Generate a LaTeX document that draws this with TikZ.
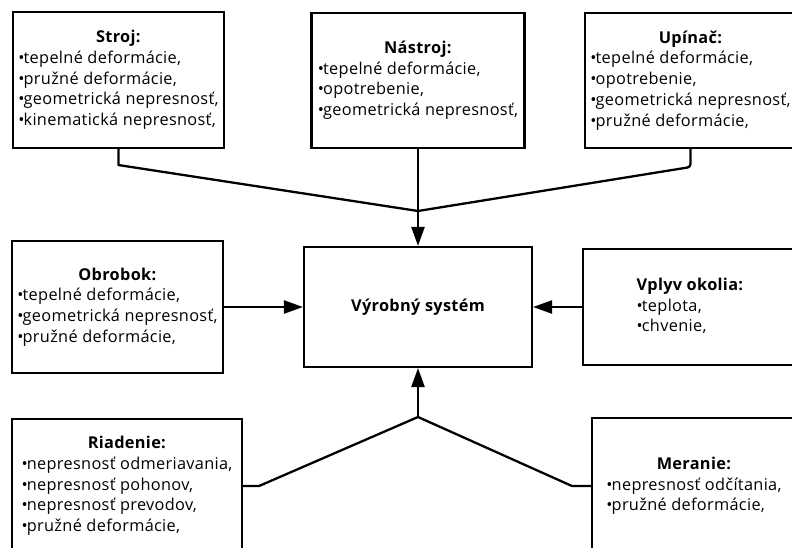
\documentclass[tikz,border=0pt]{standalone}
\usepackage{fontspec}
\setmainfont{Open Sans}[LetterSpace=2]
\usetikzlibrary{arrows.meta}
% title centred over a left-aligned list
\newcommand\listbox[2]{\begin{tabular}{@{}l@{}}\multicolumn{1}{@{}c@{}}{\textbf{#1}}\\#2\end{tabular}}
% bullet set close to its word
\newcommand\bul{•\kern-0.8pt}
\begin{document}
\begin{tikzpicture}[x=1pt,y=-1pt,
  box/.style={draw, line width=2.1pt, inner sep=0pt, font=\fontsize{16.3}{20.7}\selectfont},
  link/.style={line width=2.3pt, line join=round},
  arr/.style={link, -{Triangle[length=19pt,width=13pt]}}]
\useasboundingbox (0,0) rectangle (792,548);
\clip (0,0) rectangle (792,548);

% source boxes
\node[box, minimum width=211pt, minimum height=136pt] (stroj) at (118.5,80)
  {\listbox{Stroj:}{\bul tepelné deformácie,\\\bul pružné deformácie,\\\bul geometrická nepresnosť,\\\bul kinematická nepresnosť,}};
\node[box, minimum width=213pt, minimum height=135pt] (nastroj) at (418,80.5)
  {\listbox{Nástroj:}{\bul tepelné deformácie,\\\bul opotrebenie,\\\bul geometrická nepresnosť,}};
\node[box, minimum width=211pt, minimum height=135pt] (upinac) at (690.5,80.5)
  {\listbox{Upínač:}{\bul tepelné deformácie,\\\bul opotrebenie,\\\bul geometrická nepresnosť,\\\bul pružné deformácie,}};
\node[box, minimum width=211pt, minimum height=132pt] (obrobok) at (117.5,307)
  {\listbox{Obrobok:}{\bul tepelné deformácie,\\\bul geometrická nepresnosť,\\\bul pružné deformácie,}};
\node[box, minimum width=214pt, minimum height=116pt] (vplyv) at (690,307)
  {\listbox{Vplyv okolia:}{\bul teplota,\\\bul chvenie,}};
\node[box, minimum width=230pt, minimum height=134pt] (riadenie) at (127,486)
  {\listbox{Riadenie:}{\bul nepresnosť odmeriavania,\\\bul nepresnosť pohonov,\\\bul nepresnosť prevodov,\\\bul pružné deformácie,}};
\node[box, minimum width=204pt, minimum height=136pt] (meranie) at (694,486)
  {\listbox{Meranie:}{\bul nepresnosť odčítania,\\\bul pružné deformácie,}};

% central system
\node[box, minimum width=228pt, minimum height=120pt, font=\fontsize{16.3}{20.7}\selectfont\bfseries] (vs) at (418,307) {Výrobný systém};

% junctions
\coordinate (jt) at (418,211);
\coordinate (jb) at (418,417);

% connectors
\draw[link] (stroj.south) -- ++(0,16) -- (jt);
\draw[link, rounded corners=3pt] (upinac.south) -- ++(0,18) -- (jt);
\draw[arr] (nastroj.south) -- (vs.north);
\draw[arr] (obrobok.east) -- (vs.west);
\draw[arr] (vplyv.west) -- (vs.east);
\draw[link] (riadenie.east) -- ++(16,0) -- (jb);
\draw[link] (meranie.west) -- ++(-19,0) -- (jb);
\draw[arr] (jb) -- (vs.south);
\end{tikzpicture}
\end{document}
